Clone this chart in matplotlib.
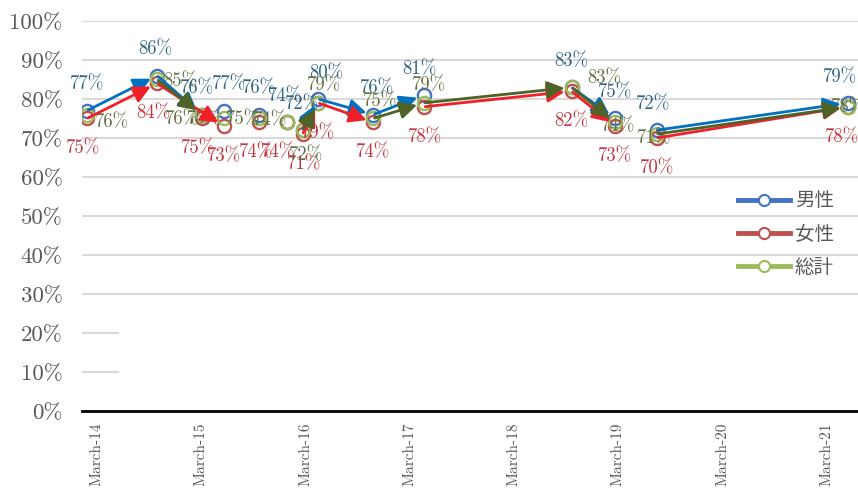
"""男女別の割合推移 — Excel 風の散布図 + 矢印を再現."""
import matplotlib

matplotlib.use("Agg")
import matplotlib.pyplot as plt
import matplotlib.dates as mdates
from matplotlib.lines import Line2D
import pandas as pd

# 調査時点と値 (%)
dates = pd.to_datetime([
    "2014-01-25", "2014-09-28", "2015-03-04", "2015-05-22", "2015-09-20",
    "2015-12-28", "2016-02-20", "2016-04-15", "2016-10-25", "2017-04-20",
    "2018-09-20", "2019-02-20", "2019-07-15", "2021-05-15",
])
male = [77, 86, 76, 77, 76, 74, 72, 80, 76, 81, 83, 75, 72, 79]
female = [75, 84, 75, 73, 74, 74, 71, 79, 74, 78, 82, 73, 70, 78]
total = [76, 85, 76, 75, 75, 74, 72, 79, 75, 79, 83, 74, 71, 78]
series_names = ["男性", "女性", "総計"]
tick_years = list(range(2014, 2022))
y_ticks = list(range(0, 101, 10))

# 手描き矢印 (始点 index, 終点 index)
male_arrows = [(0, 1), (1, 2), (6, 7), (7, 8), (8, 9), (10, 11), (12, 13)]
female_arrows = [(0, 1), (1, 3), (6, 7), (7, 8), (9, 10), (10, 11), (12, 13)]
total_arrows = [(1, 2), (6, 7), (8, 9), (9, 10), (10, 11), (12, 13)]

# ラベル位置 (pixel, 画面座標: 右 +x / 下 +y)
male_dx = [0, -2, -5, 5, 0, -2, 0, 8, 4, -4, 0, 0, -3, -8]
female_dx = [-4, -4, -4, 0, -3, -9, 2, 0, 0, 1, 0, 0, 1, -6]
total_off = [(25, 8), (23, 2), (-20, 5), (-20, 1), (-16, 1), (-17, -2), (4, 25),
             (6, -18), (7, -17), (5, -18), (33, -9), (3, 4), (-2, 4), (0, 0)]

MARK = {"男性": "#4472C4", "女性": "#C0504D", "総計": "#9BBB59"}
TEXT = {"男性": "#2F6381", "女性": "#C5333F", "総計": "#5E7040"}
ARROW = {"男性": "#0070C0", "女性": "#F0202A", "総計": "#4F6228"}
SERIF = "cmr10"
GRAY = "#595959"
LABEL_SIZE = 13.5

fig = plt.figure(figsize=(8.58, 4.92), dpi=100)
ax = fig.add_axes([82 / 858, 81 / 492, 776 / 858, 390 / 492])

data = {"男性": male, "女性": female, "総計": total}
arrows = {"男性": male_arrows, "女性": female_arrows, "総計": total_arrows}

# 目盛線 (10%, 20% は左端だけ見えている)
for v in y_ticks[1:]:
    xmax = 36 / 776 if v <= 20 else 1.0
    ax.axhline(v, xmax=xmax, color="#D9D9D9", lw=1.5, zorder=0)

for name in series_names:
    ax.plot(dates, data[name], ls="none", marker="o", ms=9.5, mfc="none",
            mec=MARK[name], mew=1.7, zorder=3)

# データラベル
for i, d in enumerate(dates):
    ax.annotate(f"{male[i]}%", (d, male[i]), xytext=(male_dx[i], 26),
                textcoords="offset pixels", ha="center", va="center",
                fontsize=LABEL_SIZE, family=SERIF, color=TEXT["男性"], zorder=4)
    ax.annotate(f"{female[i]}%", (d, female[i]), xytext=(female_dx[i], -30),
                textcoords="offset pixels", ha="center", va="center",
                fontsize=LABEL_SIZE, family=SERIF, color=TEXT["女性"], zorder=4)
    dx, dy = total_off[i]
    ax.annotate(f"{total[i]}%", (d, total[i]), xytext=(dx, -dy),
                textcoords="offset pixels", ha="center", va="center",
                fontsize=LABEL_SIZE, family=SERIF, color=TEXT["総計"], zorder=4,
                annotation_clip=False)

# 矢印 (図形として上に重ねる)
for name in series_names:
    vals = data[name]
    for a, b in arrows[name]:
        ax.annotate("", xy=(dates[b], vals[b]), xytext=(dates[a], vals[a]),
                    arrowprops=dict(arrowstyle="-|>", color=ARROW[name], lw=2.0,
                                    mutation_scale=26, shrinkA=1, shrinkB=5),
                    zorder=5)

ax.set_ylim(0, 100)
ax.set_xlim(pd.Timestamp("2014-01-08"), pd.Timestamp("2021-06-20"))
ax.set_yticks(y_ticks)
ax.set_yticklabels([f"{v}%" for v in y_ticks], family=SERIF,
                   fontsize=16.5, color=GRAY)
ax.set_xticks([pd.Timestamp(f"{y}-03-01") for y in tick_years])
ax.xaxis.set_major_formatter(mdates.DateFormatter("March-%y"))
for lab in ax.get_xticklabels():
    lab.set_family(SERIF)
ax.tick_params(axis="x", rotation=90, labelsize=11, labelcolor=GRAY, length=0, pad=8)
ax.tick_params(axis="y", length=0, pad=14)
for s in ("top", "right", "left"):
    ax.spines[s].set_visible(False)
ax.spines["bottom"].set_color("black")
ax.spines["bottom"].set_linewidth(2)

handles = [Line2D([], [], color=MARK[n], lw=3.5, marker="o", ms=8, mfc="white",
                  mec=MARK[n], mew=1.5) for n in series_names]
leg = ax.legend(handles, series_names, loc="upper left",
                bbox_to_anchor=((720 - 82) / 776, (411 - 173) / 390),
                frameon=False, handlelength=2.7, handletextpad=0.25,
                labelspacing=0.62,
                prop={"family": ["Noto Sans CJK JP", "DejaVu Sans"], "size": 14})
for t in leg.get_texts():
    t.set_color(GRAY)

fig.savefig("out.png", dpi=100)
